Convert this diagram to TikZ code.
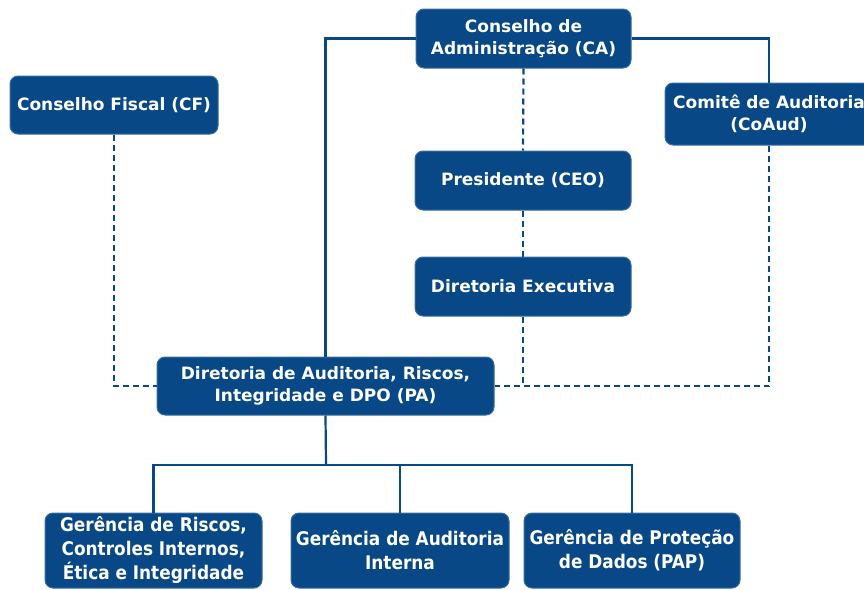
\documentclass[tikz,border=0pt]{standalone}
\usepackage{fontspec}
\setmainfont{DejaVu Sans}
\newfontfamily\condfont{DejaVu Sans Condensed}
\definecolor{navy}{RGB}{8,72,134}
\begin{document}
\begin{tikzpicture}[x=1pt,y=-1pt,
  box/.style={fill=navy,draw=navy!80!white,line width=1pt,rounded corners=8pt,text=white,
    font=\fontsize{17}{22}\selectfont\bfseries,align=center,inner sep=0pt},
  gbox/.style={box,font=\condfont\fontsize{18.8}{24}\selectfont\bfseries},
  link/.style={draw=navy,line width=2.2pt},
  dlink/.style={link,dash pattern=on 6pt off 4pt}]
\useasboundingbox (0,0) rectangle (864,589);
\node[box,minimum width=215pt,minimum height=59pt] (CA) at (523.5,38.5) {Conselho de\\Administração (CA)};
\node[box,minimum width=208pt,minimum height=58pt] (CF) at (114,105) {Conselho Fiscal (CF)};
\node[box,minimum width=208pt,minimum height=62pt] (CoAud) at (769,114) {Comitê de Auditoria\\(CoAud)};
\node[box,minimum width=216pt,minimum height=59pt] (Pres) at (523,180.5) {Presidente (CEO)};
\node[box,minimum width=216pt,minimum height=59pt] (DE) at (523,286.5) {Diretoria Executiva};
\node[box,minimum width=337pt,minimum height=58pt] (PA) at (325.5,386) {Diretoria de Auditoria, Riscos,\\Integridade e DPO (PA)};
\node[gbox,minimum width=217pt,minimum height=75pt] (G1) at (153.5,550.5) {Gerência de Riscos,\\Controles Internos,\\Ética e Integridade};
\node[gbox,minimum width=218pt,minimum height=75pt] (G2) at (400,550.5) {Gerência de Auditoria\\Interna};
\node[gbox,minimum width=216pt,minimum height=75pt] (G3) at (632,550.5) {Gerência de Proteção\\de Dados (PAP)};
\coordinate (bar) at (326,465);
\draw[link] (CA.west) -| (PA.north);
\draw[link] (CA.east) -| (CoAud.north);
\draw[dlink] (CA.south) -- (Pres.north);
\draw[dlink] (Pres.south) -- (DE.north);
\draw[dlink] (DE.south) -- (DE.south |- PA.east);
\draw[dlink] (CoAud.south) |- (PA.east);
\draw[dlink] (CF.south) |- (PA.west);
\draw[link] (PA.south) -- (bar);
\draw[link] (G1.north) -- (G1.north |- bar) -- (G3.north |- bar) -- (G3.north);
\draw[link] (G2.north) -- (G2.north |- bar);
\end{tikzpicture}
\end{document}
